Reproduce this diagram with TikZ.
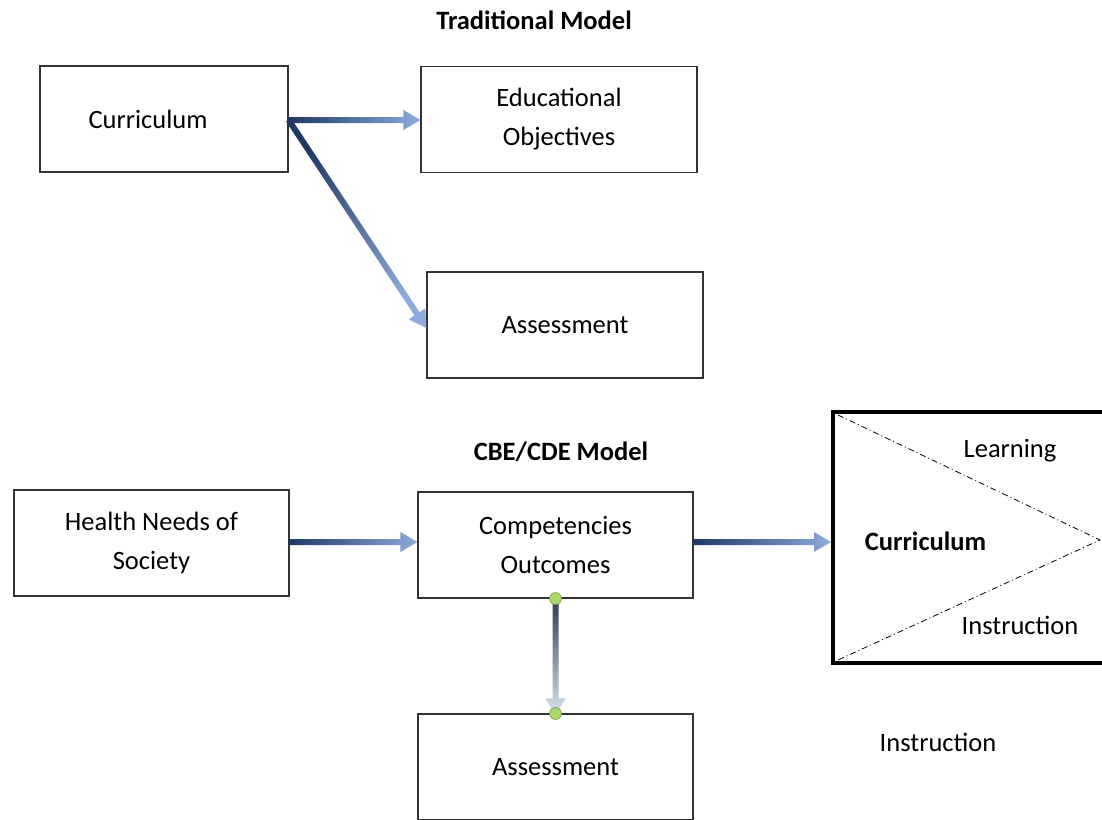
\documentclass[tikz,border=0pt]{standalone}
\usepackage{fontspec}
\setmainfont{Carlito}
\usetikzlibrary{calc}
\definecolor{arrdark}{HTML}{1F3864}
\definecolor{arrlight}{HTML}{8FAADC}
\definecolor{vdark}{HTML}{2E3B4E}
\definecolor{vlight}{HTML}{DCE6F4}
\definecolor{dotfill}{HTML}{A9D86E}
\definecolor{dotline}{HTML}{6E9A3E}
\newcommand\gradarrow[4]{%
  \path let \p1=($(#2)-(#1)$) in \pgfextra{%
    \pgfmathsetmacro\tmpA{atan2(\y1,\x1)}%
    \pgfmathsetmacro\tmpL{veclen(\x1,\y1)}%
    \pgfmathsetmacro\tmpS{\tmpA-90}%
    \xdef\GAang{\tmpA}\xdef\GAlen{\tmpL}\xdef\GAsh{\tmpS}};
  \shade[bottom color=#3, top color=#4, shading angle=\GAsh]
    [shift={(#1)}, rotate=\GAang]
    (0,3) -- ({\GAlen-17},3) -- ({\GAlen-17},10) -- (\GAlen,0)
    -- ({\GAlen-17},-10) -- ({\GAlen-17},-3) -- (0,-3) -- cycle;
}
\tikzset{
  box/.style={draw=black!80, line width=1.1pt, minimum height=106pt, align=center,
    font=\fontsize{26.5}{39}\selectfont, inner sep=0pt},
  title/.style={font=\fontsize{26.5}{32}\selectfont\bfseries},
  plain/.style={font=\fontsize{26.5}{32}\selectfont},
  dotdash/.style={black, line width=0.8pt, dash pattern=on 6pt off 3pt on 1pt off 3pt},
  gdot/.style={circle, fill=dotfill, draw=dotline, line width=0.6pt, minimum size=12pt, inner sep=0pt}
}
\begin{document}
\begin{tikzpicture}[x=1pt,y=-1pt]
\useasboundingbox (0,0) rectangle (1102,819);
\clip (0,0) rectangle (1102,819);
\fill[white] (0,0) rectangle (1102,819);

% titles
\node[title] (t1) at (534,20) {Traditional Model};
\node[title] (t2) at (561,452) {CBE/CDE Model};

% traditional model
\node[box, minimum width=248pt] (cur) at (164,119) {};
\node[plain] (curt) at (148,119) {Curriculum};
\node[box, minimum width=276pt] (obj) at (559,119.5) {Educational\\Objectives};
\node[box, minimum width=276pt] (as1) at (565,325) {Assessment};

% CBE model
\node[box, minimum width=275pt] (hn) at (151.5,543) {Health Needs of\\Society};
\node[box, minimum width=275pt] (co) at (555.5,545) {Competencies\\Outcomes};
\node[box, minimum width=275pt] (as2) at (555.5,767) {Assessment};

% big curriculum box
\node[draw=black, line width=4pt, minimum width=305pt, minimum height=251pt, inner sep=0pt] (big) at (985.5,537) {};
\coordinate (ta) at (838,415);
\coordinate (tb) at (1100,540);
\coordinate (tc) at (838,660);
\draw[dotdash] (ta) -- (tb) -- (tc);
\node[plain] (lrn) at (1010,451) {Learning};
\node[plain] (ins1) at (1020,625) {Instruction};
\node[title] (cur2) at (925.5,541.5) {Curriculum};
\node[plain] (ins2) at (938,742) {Instruction};

% arrows
\coordinate (s1) at ([yshift=-1pt]cur.east);
\gradarrow{s1}{obj.west |- s1}{arrdark}{arrlight}
\gradarrow{s1}{[yshift=-3pt]as1.west}{arrdark}{arrlight}
\coordinate (s3) at ([yshift=1pt]hn.east);
\gradarrow{s3}{co.west |- s3}{arrdark}{arrlight}
\coordinate (s4) at ([yshift=3pt]co.east);
\gradarrow{s4}{big.west |- s4}{arrdark}{arrlight}
\gradarrow{co.south}{[yshift=-2pt]as2.north}{vdark}{vlight}
\node[gdot] (d1) at (co.south) {};
\node[gdot] (d2) at (as2.north) {};
\end{tikzpicture}
\end{document}
